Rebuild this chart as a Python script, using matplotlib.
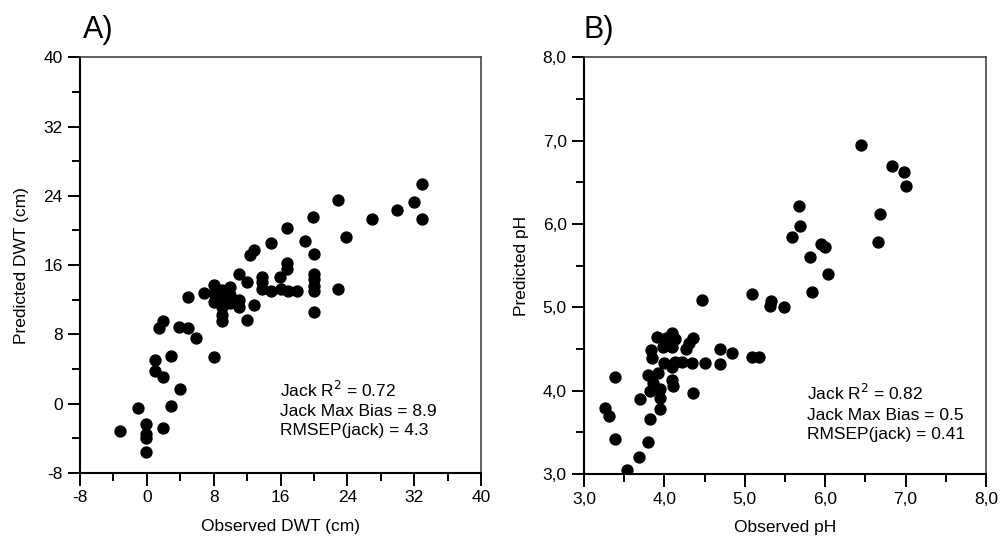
import numpy as np
import matplotlib.pyplot as plt

plt.rcParams['font.family'] = ['Liberation Sans', 'DejaVu Sans']
plt.rcParams['axes.unicode_minus'] = False

# Panel A: DWT (cm)
dwt_obs = [32.9, 22.9, 32.0, 29.9, 19.95, 26.9, 32.9, 16.8, 23.9, 14.9, 18.95, 12.85,
           12.4, 20.0, 16.8, 16.8, 11.0, 12.0, 13.8, 13.8, 15.9, 20.0, 20.0, 20.0, 20.0,
           13.8, 14.9, 16.0, 16.9, 18.0, 22.9, 20.0, 12.85, 11.0, 12.0, 11.0, 6.8, 4.95,
           8.0, 8.0, 8.0, 9.0, 9.0, 9.0, 9.0, 9.0, 9.9, 9.9, 9.9, 8.5, 9.5, 8.0,
           1.9, 1.4, 3.9, 4.95, 5.9, 2.9, 1.0, 1.0, 1.9, 4.0, 2.9, -1.1, -0.1, -0.1,
           -0.1, 1.9, -3.2, -0.1]
dwt_pred = [25.4, 23.5, 23.3, 22.4, 21.6, 21.3, 21.3, 20.3, 19.3, 18.6, 18.8, 17.8,
            17.15, 17.3, 16.3, 15.6, 15.0, 14.1, 14.65, 14.0, 14.6, 15.0, 14.35, 13.6, 13.0,
            13.2, 13.0, 13.2, 13.0, 13.0, 13.2, 10.6, 11.4, 11.2, 9.7, 12.0, 12.8, 12.35,
            13.7, 12.8, 11.8, 13.1, 12.35, 11.2, 10.2, 9.5, 13.5, 12.5, 11.6, 12.3, 12.9, 5.4,
            9.5, 8.8, 8.9, 8.7, 7.6, 5.55, 5.0, 3.8, 3.1, 1.7, -0.3, -0.5, -2.3, -3.5,
            -3.9, -2.8, -3.2, -5.6]

# Panel B: pH
ph_obs = [6.45, 6.83, 6.98, 7.01, 6.68, 6.66, 5.67, 5.69, 5.59, 5.81, 5.95, 6.0, 6.04,
          5.83, 5.09, 5.32, 5.31, 5.49, 4.47, 4.69, 4.84, 4.69, 5.09, 5.18, 4.5, 4.35,
          4.35, 4.31, 4.27, 4.22, 4.34, 4.13, 4.09, 4.13, 4.09, 4.02, 3.98, 3.91, 3.83,
          3.84, 4.0, 4.09, 4.09, 4.11, 3.92, 3.80, 3.86, 3.82, 3.94, 3.94, 3.70, 3.94,
          3.82, 3.80, 3.69, 3.54, 3.38, 3.39, 3.26, 3.31]
ph_pred = [6.95, 6.69, 6.62, 6.46, 6.12, 5.79, 6.21, 5.98, 5.84, 5.61, 5.76, 5.72, 5.40,
           5.18, 5.16, 5.08, 5.02, 5.0, 5.09, 4.5, 4.45, 4.32, 4.40, 4.40, 4.33, 3.97,
           4.63, 4.57, 4.50, 4.35, 4.33, 4.35, 4.69, 4.62, 4.53, 4.63, 4.52, 4.65, 4.49,
           4.39, 4.33, 4.29, 4.13, 4.06, 4.21, 4.19, 4.09, 4.0, 4.02, 3.91, 3.90, 3.78,
           3.66, 3.38, 3.20, 3.05, 3.42, 4.17, 3.79, 3.70]

dwt_ticks = [-8, 0, 8, 16, 24, 32, 40]
ph_ticks = [3.0, 4.0, 5.0, 6.0, 7.0, 8.0]
ph_ticklabels = ['3,0', '4,0', '5,0', '6,0', '7,0', '8,0']

stats_a = ['Jack R$^2$ = 0.72', 'Jack Max Bias = 8.9', 'RMSEP(jack) = 4.3']
stats_b = ['Jack R$^2$ = 0.82', 'Jack Max Bias = 0.5', 'RMSEP(jack) = 0.41']

fig = plt.figure(figsize=(10, 5.45), dpi=100)
ax1 = fig.add_axes([0.080, 0.132, 0.401, 0.763])
ax2 = fig.add_axes([0.584, 0.130, 0.402, 0.765])


def style(ax):
    for s in ['left', 'bottom']:
        ax.spines[s].set_linewidth(1.5)
        ax.spines[s].set_color('black')
    for s in ['top', 'right']:
        ax.spines[s].set_linewidth(1.2)
        ax.spines[s].set_color('#444444')
    ax.tick_params(which='major', direction='out', length=9, width=1.4, labelsize=12.5,
                   top=False, right=False)
    ax.tick_params(which='minor', direction='out', length=6, width=1.4,
                   top=False, right=False)


ax1.scatter(dwt_obs, dwt_pred, s=62, color='black', zorder=3)
ax1.set_xlim(-8, 40)
ax1.set_ylim(-8, 40)
ax1.set_xticks(dwt_ticks)
ax1.set_xticks(np.arange(-4, 40, 8), minor=True)
ax1.set_yticks(dwt_ticks)
ax1.set_yticks(np.arange(-4, 40, 8), minor=True)
ax1.set_xlabel('Observed DWT (cm)', fontsize=12.5, labelpad=10)
ax1.set_ylabel('Predicted DWT (cm)', fontsize=12.5, labelpad=10)
style(ax1)
ax1.text(0.498, 0.225, '\n'.join(stats_a), transform=ax1.transAxes, fontsize=12.5,
         va='top', ha='left', linespacing=1.35)
fig.text(0.083, 0.945, 'A)', fontsize=22, ha='left', va='center')

ax2.scatter(ph_obs, ph_pred, s=62, color='black', zorder=3)
ax2.set_xlim(3, 8)
ax2.set_ylim(3, 8)
ax2.set_xticks(ph_ticks)
ax2.set_xticklabels(ph_ticklabels)
ax2.set_xticks(np.arange(3.5, 8, 1.0), minor=True)
ax2.set_yticks(ph_ticks)
ax2.set_yticklabels(ph_ticklabels)
ax2.set_yticks(np.arange(3.5, 8, 1.0), minor=True)
ax2.set_xlabel('Observed pH', fontsize=12.5, labelpad=10)
ax2.set_ylabel('Predicted pH', fontsize=12.5, labelpad=10)
style(ax2)
ax2.text(0.555, 0.218, '\n'.join(stats_b), transform=ax2.transAxes, fontsize=12.5,
         va='top', ha='left', linespacing=1.35)
fig.text(0.583, 0.945, 'B)', fontsize=22, ha='left', va='center')

fig.savefig('out.png', dpi=100)
